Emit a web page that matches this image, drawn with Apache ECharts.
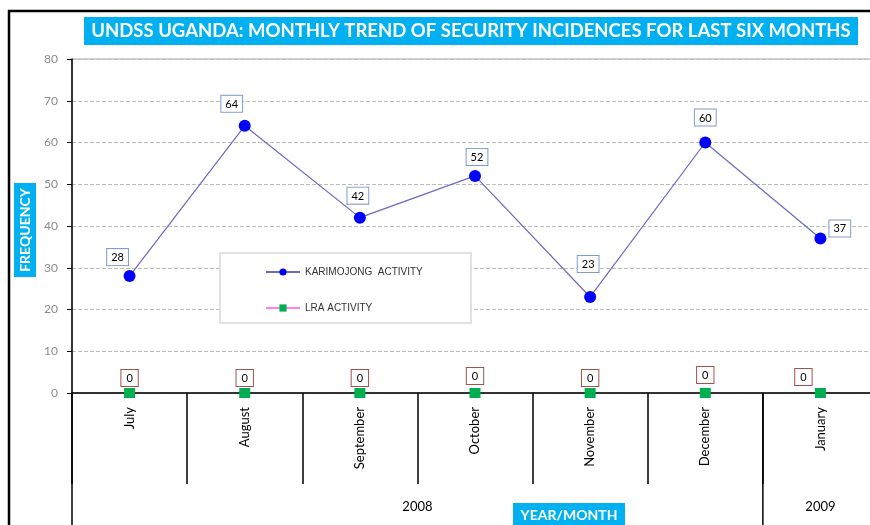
<!DOCTYPE html>
<html>
<head>
<meta charset="utf-8">
<style>
    html,body{margin:0;padding:0;background:#fff;}
    #chart{width:870px;height:525px;}
</style>
<script src="https://cdn.jsdelivr.net/npm/echarts/dist/echarts.min.js"></script>
</head>
<body>
<div id="chart"></div>
<script>
    // data
    var months = ['July', 'August', 'September', 'October', 'November', 'December', 'January'];
    var karimojong = [28, 64, 42, 52, 23, 60, 37];
    var lra = [0, 0, 0, 0, 0, 0, 0];
    var years = ['2008', '2009'];
    var yearStart = [0, 6];   // first month index of each year
    var yearEnd = [5, 6];     // last month index of each year

    // label nudges (styling only)
    var karLabelPos = [['top', -12, 0], ['top', -13, -3], ['top', -2, -3], ['top', 2, 0], ['top', -2, -14], ['top', 0, -6], ['right', -2, -10]];
    var lraLabelPos = [['top', 0, 3], ['top', 0, 3], ['top', 0, 3], ['top', 0, 1], ['top', 0, 3], ['top', 0, 0], ['top', -17, 2]];

    var cyan = '#00b0f0';
    var font = 'Lato';

    var chart = echarts.init(document.getElementById('chart'));

    var karData = karimojong.map(function (v, i) {
        var p = karLabelPos[i];
        return {value: v, label: {position: p[0], offset: [p[1], p[2]]}};
    });
    var lraData = lra.map(function (v, i) {
        var p = lraLabelPos[i];
        return {value: v, label: {position: p[0], offset: [p[1], p[2]]}};
    });

    var option = {
        animation: false,
        backgroundColor: '#fff',
        // the plot runs a little past the right edge of the picture
        grid: {left: 72, width: 806, top: 59, bottom: 132, outerBoundsMode: 'none', containLabel: false,
               show: true, borderColor: '#a6a6a6', borderWidth: 1},
        legend: {
            orient: 'vertical',
            left: 260, top: 262,
            itemWidth: 34, itemHeight: 9, itemGap: 26,
            textStyle: {fontSize: 10, color: '#333', fontFamily: 'Liberation Sans'},
            data: [
                {name: 'KARIMOJONG  ACTIVITY'},
                {name: 'LRA ACTIVITY', lineStyle: {color: '#ff00ff', width: 1.2, opacity: 1}}
            ]
        },
        xAxis: {
            type: 'category',
            data: months,
            boundaryGap: true,
            axisLine: {lineStyle: {color: '#000', width: 1.5}},
            axisTick: {show: true, length: 91, interval: 0, lineStyle: {color: '#000', width: 1.5}},
            axisLabel: {rotate: 90, interval: 0, margin: 14, fontSize: 13, color: '#000', fontFamily: font},
            splitLine: {show: false}
        },
        yAxis: {
            type: 'value',
            min: 0, max: 80, interval: 10,
            axisLine: {show: true, lineStyle: {color: '#000', width: 1.5}},
            axisTick: {show: true, length: 5, lineStyle: {color: '#000'}},
            axisLabel: {margin: 14, fontSize: 12, color: '#8c8c8c', fontFamily: font},
            splitLine: {lineStyle: {color: '#bdbdbd', type: 'dashed'}}
        },
        series: [
            {
                name: 'KARIMOJONG  ACTIVITY',
                type: 'line',
                data: karData,
                symbol: 'circle',
                symbolSize: 12,
                z: 5,
                itemStyle: {color: '#0000ff'},
                lineStyle: {color: '#6c68c4', width: 1.2},
                label: {
                    show: true, distance: 5, fontSize: 11, color: '#000', fontFamily: font,
                    backgroundColor: '#fff', borderColor: '#7f9ccc', borderWidth: 1,
                    padding: [3, 4, 2, 4]
                }
            },
            {
                name: 'LRA ACTIVITY',
                type: 'line',
                data: lraData,
                symbol: 'rect',
                symbolSize: [11, 10],
                z: 1,
                itemStyle: {color: '#00b050'},
                // the line sits under the x axis in the original
                lineStyle: {color: 'rgba(255,0,255,0)', width: 1.2},
                label: {
                    show: true, distance: 5, fontSize: 11, color: '#000', fontFamily: font,
                    backgroundColor: '#fff', borderColor: '#a0524f', borderWidth: 1,
                    padding: [3, 5, 2, 5]
                }
            }
        ]
    };
    chart.setOption(option);

    // extra pieces placed off the axis scale
    function px(i) { return chart.convertToPixel({xAxisIndex: 0}, months[i]); }
    var half = (px(1) - px(0)) / 2;
    var y0 = chart.convertToPixel({yAxisIndex: 0}, 0);

    var graphics = [
        // outer frame
        {type: 'rect', shape: {x: 9, y: 11, width: 900, height: 600}, style: {fill: null, stroke: '#000', lineWidth: 2.5}, z: 10},
        // title
        {type: 'rect', shape: {x: 84, y: 17, width: 774, height: 28}, style: {fill: cyan}, z: 10},
        {type: 'text', x: 471, y: 31, style: {text: 'UNDSS UGANDA: MONTHLY TREND OF SECURITY INCIDENCES FOR LAST SIX MONTHS', fill: '#fff', font: 'bold 18.5px ' + font, textAlign: 'center', textVerticalAlign: 'middle'}, z: 11},
        // y axis name
        {type: 'rect', shape: {x: 14, y: 183, width: 22, height: 94}, style: {fill: cyan}, z: 10},
        {type: 'text', x: 25, y: 230, rotation: Math.PI / 2, style: {text: 'FREQUENCY', fill: '#fff', font: 'bold 14px ' + font, textAlign: 'center', textVerticalAlign: 'middle'}, z: 11},
        // x axis name
        {type: 'rect', shape: {x: 513, y: 503, width: 112, height: 24}, style: {fill: cyan}, z: 10},
        {type: 'text', x: 569, y: 515, style: {text: 'YEAR/MONTH', fill: '#fff', font: 'bold 14px ' + font, textAlign: 'center', textVerticalAlign: 'middle'}, z: 11},
        // legend box
        {type: 'rect', shape: {x: 220, y: 253, width: 251, height: 70}, style: {fill: '#fff', stroke: '#d9d9d9', lineWidth: 1.5}, z: 3},
        // y axis line continues down to the bottom
        {type: 'line', shape: {x1: 72, y1: y0, x2: 72, y2: 525}, style: {stroke: '#000', lineWidth: 1.5}, z: 10}
    ];

    // year group separators reaching the bottom, and year labels
    years.forEach(function (yr, k) {
        var a = px(yearStart[k]) - half;
        var b = px(yearEnd[k]) + half;
        if (k > 0) {
            graphics.push({type: 'line', shape: {x1: a, y1: y0, x2: a, y2: 525}, style: {stroke: '#000', lineWidth: 1.5}, z: 10});
        }
        graphics.push({type: 'text', x: (a + b) / 2, y: 507, style: {text: yr, fill: '#000', font: '13px ' + font, textAlign: 'center', textVerticalAlign: 'middle'}, z: 11});
    });

    chart.setOption({graphic: graphics});

    window.onresize = function () {
        chart.resize();
    };
</script>
</body>
</html>
